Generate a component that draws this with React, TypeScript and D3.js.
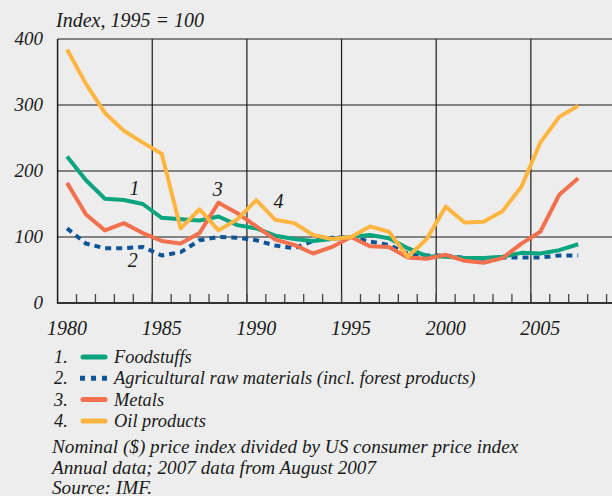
import React, { useEffect, useRef } from "react";
import * as d3 from "d3";

// years (annual averages, 2007 = August)
const years = d3.range(1980, 2008);

const foodstuffs = [222, 186, 158, 156, 150, 129, 127, 125, 131, 118, 113, 102, 97, 94, 97, 100, 103, 98, 83, 71, 70, 68, 68, 70, 76, 75, 80, 89];
const agriRaw = [113, 90, 83, 83, 85, 72, 77, 95, 100, 99, 95, 87, 83, 94, 99, 100, 93, 88, 75, 72, 72, 68, 67, 69, 69, 69, 72, 72];
const metals = [182, 134, 110, 121, 106, 94, 90, 106, 152, 136, 116, 96, 88, 75, 85, 100, 86, 85, 69, 67, 73, 64, 61, 68, 90, 108, 164, 189];
const oilProducts = [384, 332, 288, 261, 243, 226, 113, 142, 110, 127, 156, 126, 121, 103, 97, 100, 116, 108, 70, 97, 146, 122, 123, 139, 176, 243, 282, 299];

const yTicks = [0, 100, 200, 300, 400];
const xTickLabels = [1980, 1985, 1990, 1995, 2000, 2005];
const gridYears = [1985, 1990, 1995, 2000, 2005];

const seriesNames = [
  "Foodstuffs",
  "Agricultural raw materials (incl. forest products)",
  "Metals",
  "Oil products",
];
const notes = [
  "Nominal ($) price index divided by US consumer price index",
  "Annual data; 2007 data from August 2007",
  "Source: IMF.",
];

const colors = ["#0aa57f", "#0d5596", "#f2704d", "#ffb640"];

function drawChart(node: SVGSVGElement) {
  const svg = d3.select(node);
  svg.selectAll("*").remove();

  const font = "'Liberation Serif', 'DejaVu Serif', serif";

  svg.append("rect").attr("width", 612).attr("height", 496).attr("fill", "#ededed");

  const x = d3.scaleLinear().domain([1980, 2010]).range([57.6, 625.5]);
  const y = d3.scaleLinear().domain([0, 400]).range([303, 39]);

  // grid
  const grid = svg.append("g").attr("stroke", "#1a1a1a").attr("stroke-width", 1.2);
  yTicks.filter((d) => d > 0).forEach((d) => {
    grid.append("line").attr("x1", x(1980)).attr("x2", 612).attr("y1", y(d)).attr("y2", y(d));
  });
  gridYears.forEach((yr) => {
    grid.append("line").attr("x1", x(yr)).attr("x2", x(yr)).attr("y1", y(400)).attr("y2", y(0));
  });
  // left axis
  grid.append("line").attr("x1", x(1980)).attr("x2", x(1980)).attr("y1", y(400)).attr("y2", y(0)).attr("stroke-width", 1.5);

  // bottom axis with small ticks every year
  const axis = svg.append("g").attr("stroke", "#444");
  d3.range(1981, 2010).forEach((yr) => {
    axis.append("line").attr("x1", x(yr)).attr("x2", x(yr)).attr("y1", y(0)).attr("y2", y(0) - 9).attr("stroke-width", 1.3);
  });
  axis.append("line").attr("x1", x(1980) - 0.7).attr("x2", 612).attr("y1", y(0)).attr("y2", y(0)).attr("stroke", "#333").attr("stroke-width", 2.2);

  // y labels
  svg.append("g").selectAll("text").data(yTicks).enter().append("text")
    .attr("x", 43).attr("y", (d) => y(d) + 6).attr("text-anchor", "end")
    .attr("font-family", font).attr("font-style", "italic").attr("font-size", 19).attr("fill", "#1a1a1a")
    .text((d) => d);

  // x labels (centred on the year)
  svg.append("g").selectAll("text").data(xTickLabels).enter().append("text")
    .attr("x", (d) => x(d + 0.5)).attr("y", 335).attr("text-anchor", "middle")
    .attr("font-family", font).attr("font-style", "italic").attr("font-size", 20).attr("fill", "#1a1a1a")
    .text((d) => d);

  svg.append("text").attr("x", 56).attr("y", 27)
    .attr("font-family", font).attr("font-style", "italic").attr("font-size", 20).attr("fill", "#1a1a1a")
    .text("Index, 1995 = 100");

  const allSeries = [foodstuffs, agriRaw, metals, oilProducts];
  const drawOrder = [1, 0, 2, 3];
  const line = d3.line<number>()
    .x((_, i) => x(years[i] + 0.5))
    .y((d) => y(d));

  drawOrder.forEach((s) => {
    const path = svg.append("path").datum(allSeries[s])
      .attr("d", line).attr("fill", "none")
      .attr("stroke", colors[s]).attr("stroke-width", 4)
      .attr("stroke-linejoin", "round");
    if (s === 1) path.attr("stroke-dasharray", "6 5");
  });

  // in-chart series labels
  const inLabels = [
    { t: "1", yr: 1983.8, v: 164 },
    { t: "2", yr: 1983.7, v: 55 },
    { t: "3", yr: 1988.2, v: 162 },
    { t: "4", yr: 1991.4, v: 144 },
  ];
  svg.append("g").selectAll("text").data(inLabels).enter().append("text")
    .attr("x", (d) => x(d.yr)).attr("y", (d) => y(d.v))
    .attr("font-family", font).attr("font-style", "italic").attr("font-size", 20).attr("fill", "#1a1a1a")
    .text((d) => d.t);

  // legend
  const leg = svg.append("g");
  seriesNames.forEach((name, i) => {
    const ly = 357 + i * 21.3;
    leg.append("text").attr("x", 54).attr("y", ly + 6)
      .attr("font-family", font).attr("font-style", "italic").attr("font-size", 18.4).attr("fill", "#1a1a1a")
      .text(`${i + 1}.`);
    const sw = leg.append("line").attr("x1", 83).attr("x2", 105).attr("y1", ly).attr("y2", ly)
      .attr("stroke", colors[i]).attr("stroke-width", 5);
    if (i === 1) sw.attr("x1", 80).attr("x2", 107).attr("stroke-dasharray", "5 6").attr("stroke-width", 5);
    else sw.attr("stroke-linecap", "round");
    leg.append("text").attr("x", 114).attr("y", ly + 6)
      .attr("font-family", font).attr("font-style", "italic").attr("font-size", 18.4).attr("fill", "#1a1a1a")
      .text(name);
  });

  notes.forEach((n, i) => {
    svg.append("text").attr("x", 52).attr("y", 453 + i * 20.5)
      .attr("font-family", font).attr("font-style", "italic").attr("font-size", 19.2).attr("fill", "#1a1a1a")
      .text(n);
  });
}

export default function App() {
  const ref = useRef<SVGSVGElement>(null);
  useEffect(() => {
    if (ref.current) drawChart(ref.current);
  }, []);
  return (
    <svg ref={ref} width={612} height={496}
      style={{ position: "absolute", left: 0, top: 0, display: "block" }} />
  );
}
